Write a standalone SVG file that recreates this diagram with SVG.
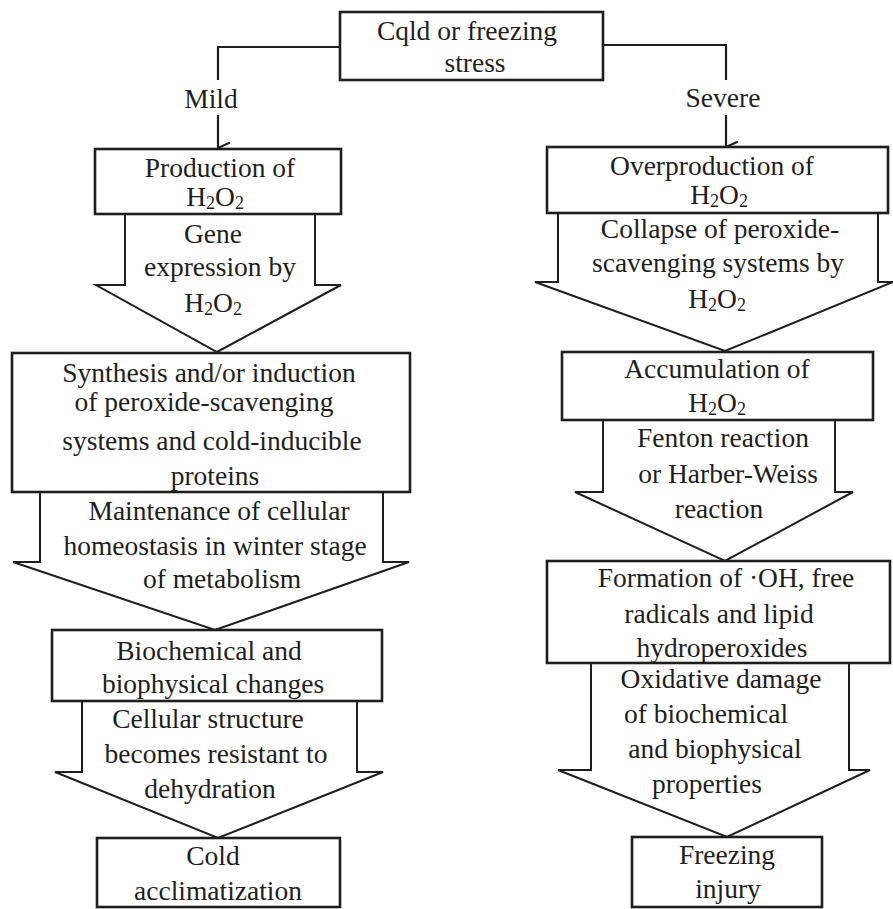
<svg xmlns="http://www.w3.org/2000/svg" width="893" height="909" viewBox="0 0 893 909">
<style>
  .box { fill: #fff; stroke: #1e1e1e; stroke-width: 2.6; }
  .barrow { fill: #fff; stroke: #1e1e1e; stroke-width: 2; stroke-linejoin: miter; }
  .line { fill: none; stroke: #1e1e1e; stroke-width: 2.2; }
  text { font-family: "Liberation Serif", "Times New Roman", serif; font-size: 27.5px; fill: #1e1e1e; text-anchor: middle; }
  .sub { font-size: 18px; }
</style>
<defs>
  <marker id="vhead" viewBox="0 0 12 14" refX="6" refY="13" markerWidth="12" markerHeight="14" markerUnits="userSpaceOnUse" orient="auto-start-reverse">
    <path d="M0.5,1 L6,13 L11.5,1" fill="none" stroke="#1e1e1e" stroke-width="2"/>
  </marker>
</defs>
<rect width="893" height="909" fill="#fff"/>

<g id="connectors">
  <path class="line" d="M340,47 H218 V80"/>
  <path class="line" d="M218,115 V148" marker-end="url(#vhead)"/>
  <path class="line" d="M603,45 H726 V80"/>
  <path class="line" d="M726,115 V147" marker-end="url(#vhead)"/>
  <text x="211" y="108">Mild</text>
  <text x="723" y="107">Severe</text>
</g>

<g id="arrow-gene">
  <polyline class="barrow" points="125,214 125,285 96,285 217,352 341,285 315,285 315,214"/>
  <text x="213" y="243">Gene</text>
  <text x="220" y="276">expression by</text>
  <text x="213" y="312">H<tspan class="sub" dy="3">2</tspan><tspan dy="-3">O</tspan><tspan class="sub" dy="3">2</tspan></text>
</g>
<g id="arrow-maintenance">
  <polyline class="barrow" points="40,492 40,562 13,562 215,630 409,562 383,562 383,492"/>
  <text x="219" y="520">Maintenance of cellular</text>
  <text x="215" y="555">homeostasis in winter stage</text>
  <text x="222" y="588">of metabolism</text>
</g>
<g id="arrow-cellular">
  <polyline class="barrow" points="82,701 82,772 55,772 218,838 383,772 357,772 357,701"/>
  <text x="208" y="728">Cellular structure</text>
  <text x="216" y="763">becomes resistant to</text>
  <text x="210" y="798">dehydration</text>
</g>
<g id="arrow-collapse">
  <polyline class="barrow" points="558,213 558,282 535,282 725,351 893,282 893,282 878,282 878,213"/>
  <text x="720" y="238">Collapse of peroxide-</text>
  <text x="718" y="272">scavenging systems by</text>
  <text x="717" y="308">H<tspan class="sub" dy="3">2</tspan><tspan dy="-3">O</tspan><tspan class="sub" dy="3">2</tspan></text>
</g>
<g id="arrow-fenton">
  <polyline class="barrow" points="603,420 603,492 575,492 725,561 853,492 835,492 835,420"/>
  <text x="723" y="447">Fenton reaction</text>
  <text x="728" y="483">or Harber-Weiss</text>
  <text x="719" y="518">reaction</text>
</g>
<g id="arrow-oxidative">
  <polyline class="barrow" points="591,663 591,770 558,770 727,837 870,770 849,770 849,663"/>
  <text x="721" y="688">Oxidative damage</text>
  <text x="706" y="723">of biochemical</text>
  <text x="715" y="758">and biophysical</text>
  <text x="707" y="793">properties</text>
</g>

<g id="node-stress">
  <rect class="box" x="340" y="12" width="263" height="68"/>
  <text x="467" y="40">Cqld or freezing</text>
  <text x="475" y="72">stress</text>
</g>
<g id="node-production">
  <rect class="box" x="95" y="149" width="246" height="65"/>
  <text x="220" y="177">Production of</text>
  <text x="215" y="206">H<tspan class="sub" dy="3">2</tspan><tspan dy="-3">O</tspan><tspan class="sub" dy="3">2</tspan></text>
</g>
<g id="node-synthesis">
  <rect class="box" x="12" y="353" width="398" height="139"/>
  <text x="209" y="382">Synthesis and/or induction</text>
  <text x="204" y="411">of peroxide-scavenging</text>
  <text x="212" y="450">systems and cold-inducible</text>
  <text x="215" y="485">proteins</text>
</g>
<g id="node-biochemical">
  <rect class="box" x="52" y="630" width="330" height="71"/>
  <text x="209" y="660">Biochemical and</text>
  <text x="213" y="693">biophysical changes</text>
</g>
<g id="node-acclimatization">
  <rect class="box" x="97" y="838" width="243" height="69"/>
  <text x="213" y="865">Cold</text>
  <text x="218" y="900">acclimatization</text>
</g>
<g id="node-overproduction">
  <rect class="box" x="547" y="147" width="341" height="66"/>
  <text x="712" y="175">Overproduction of</text>
  <text x="719" y="204">H<tspan class="sub" dy="3">2</tspan><tspan dy="-3">O</tspan><tspan class="sub" dy="3">2</tspan></text>
</g>
<g id="node-accumulation">
  <rect class="box" x="562" y="352" width="311" height="68"/>
  <text x="717" y="378">Accumulation of</text>
  <text x="717" y="412">H<tspan class="sub" dy="3">2</tspan><tspan dy="-3">O</tspan><tspan class="sub" dy="3">2</tspan></text>
</g>
<g id="node-formation">
  <rect class="box" x="547" y="561" width="343" height="102"/>
  <text x="726" y="587">Formation of ·OH, free</text>
  <text x="719" y="623">radicals and lipid</text>
  <text x="722" y="657">hydroperoxides</text>
</g>
<g id="node-freezing">
  <rect class="box" x="632" y="837" width="190" height="70"/>
  <text x="727" y="864">Freezing</text>
  <text x="728" y="898">injury</text>
</g>
</svg>
